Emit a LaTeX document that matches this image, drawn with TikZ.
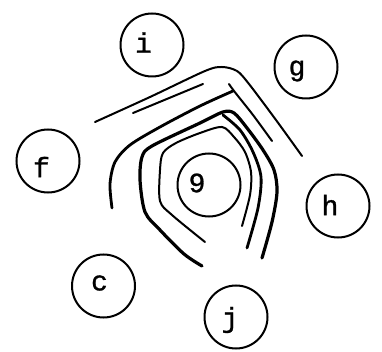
\documentclass[tikz,border=0pt]{standalone}
\usepackage{fontspec}
\newfontfamily\letra{Liberation Mono}[FakeBold=1]
\begin{document}
\begin{tikzpicture}[x=1pt,y=-1pt,
        circ/.style={draw,circle,line width=2pt,minimum size=63pt,inner sep=0pt},
        lbl/.style={font=\letra\fontsize{28}{28}\selectfont,inner sep=0pt},
        fino/.style={line width=2pt,line cap=round},
        grueso/.style={line width=2.8pt,line cap=round}]
            \useasboundingbox (0,0) rectangle (382,352);
            % Circulos
            \node[circ] (i) at (152,45) {};
            \node[circ] (g) at (306,67) {};
            \node[circ] (f) at (48,161) {};
            \node[circ] (m) at (209,185) {};
            \node[circ] (h) at (338,206) {};
            \node[circ] (c) at (103.5,286) {};
            \node[circ] (j) at (236,317) {};
            % Letras
            \node[lbl] (ti) at (143.5,42.5) {i};
            \node[lbl] (tg) at (297,71) {g};
            \node[lbl] (tf) at (41.5,167) {f};
            \node[lbl] (tm) at (197,183) {9};
            \node[lbl] (th) at (330,205) {h};
            \node[lbl] (tc) at (99.5,283) {c};
            \node[lbl] (tj) at (230,320) {j};
            % Curvas de arriba
            \draw[fino] plot[smooth,tension=0.5] coordinates {(95,122) (150,97) (205,71) (222,67) (237,71) (249,84) (276,120) (302,156)};
            \draw[fino] (133,113) -- (203,84);
            \draw[fino] plot[smooth,tension=0.5] coordinates {(229,84) (234,91) (253,115) (272,141)};
            \draw[grueso] plot[smooth,tension=0.5] coordinates {(112,208) (110,184) (115,162) (130,145) (160,127) (200,106) (233,91)};
            % Curvas de dentro
            \draw[grueso,line width=3.2pt] plot[smooth,tension=0.5] coordinates {(202,266) (184,254) (160,230) (145,212) (140,180) (142,157) (152,146) (200,123) (223,112) (234,113) (247,128) (263,150) (274,170) (277,192) (272,222) (262,258)};
            \draw[grueso] plot[smooth,tension=0.5] coordinates {(223,115) (240,130) (253,152) (261,177) (258,208) (247,248)};
            \draw[fino] plot[smooth,tension=0.5] coordinates {(205,242) (172,215) (160,201) (160,170) (163,153) (176,143) (200,133) (222,127) (234,137) (245,152) (251,172) (250,195) (242,226)};
        \end{tikzpicture}
\end{document}
